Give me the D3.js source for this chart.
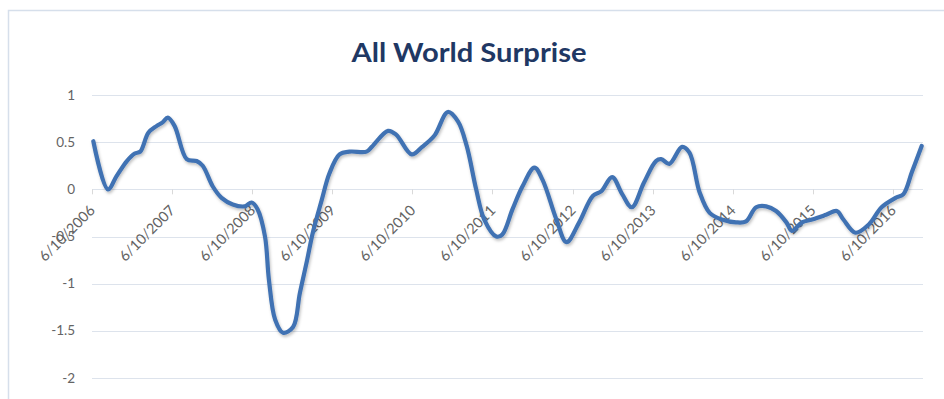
<!DOCTYPE html>
<html>
<head>
<meta charset="utf-8">
<script src="https://cdn.jsdelivr.net/npm/d3@7"></script>
<style>
  body { margin: 0; background: #fff; }
  text { font-family: Lato, "Open Sans", sans-serif; }
</style>
</head>
<body>
<div id="chart"></div>
<script>
var width = 944,
    height = 399;

// values
var dates = [
  "2006-06-16", "2006-08-22", "2006-09-30", "2006-11-16", "2006-12-22",
  "2007-01-16", "2007-02-22", "2007-03-31", "2007-04-28", "2007-05-22",
  "2007-06-22", "2007-08-16", "2007-09-30", "2007-10-28", "2007-12-13",
  "2008-01-22", "2008-03-13", "2008-05-07", "2008-06-07", "2008-07-04",
  "2008-08-07", "2008-08-25", "2008-09-22", "2008-10-28", "2008-12-13",
  "2009-01-13", "2009-02-16", "2009-03-13", "2009-04-22", "2009-05-28",
  "2009-07-13", "2009-08-28", "2009-11-13", "2009-12-07", "2010-02-19",
  "2010-03-28", "2010-06-07", "2010-07-25", "2010-09-19", "2010-11-19",
  "2011-01-04", "2011-02-13", "2011-03-28", "2011-05-04", "2011-06-28",
  "2011-07-25", "2011-09-10", "2011-10-25", "2011-12-19", "2012-01-25",
  "2012-03-28", "2012-05-13", "2012-07-10", "2012-09-10", "2012-10-19",
  "2012-12-07", "2013-01-22", "2013-03-07", "2013-05-01", "2013-06-25",
  "2013-07-19", "2013-08-25", "2013-10-22", "2013-11-25", "2014-01-10",
  "2014-02-25", "2014-04-22", "2014-06-25", "2014-08-10", "2014-09-25",
  "2014-11-10", "2014-12-25", "2015-02-10", "2015-03-07", "2015-04-22",
  "2015-06-07", "2015-08-10", "2015-09-28", "2015-10-28", "2015-12-22",
  "2016-02-22", "2016-04-19", "2016-06-22", "2016-07-28", "2016-09-04",
  "2016-10-19"
];
var surprise = [
  0.51, 0.00, 0.14, 0.30, 0.38,
  0.40, 0.60, 0.67, 0.71, 0.76,
  0.67, 0.32, 0.30, 0.25, 0.03,
  -0.09, -0.16, -0.18, -0.14, -0.21,
  -0.50, -0.96, -1.38, -1.52, -1.46,
  -1.10, -0.74, -0.46, -0.12, 0.17,
  0.37, 0.40, 0.40, 0.45, 0.62,
  0.58, 0.37, 0.45, 0.57, 0.82,
  0.72, 0.46, 0.00, -0.32, -0.50,
  -0.48, -0.21, 0.03, 0.23, 0.10,
  -0.32, -0.56, -0.35, -0.07, -0.02,
  0.13, -0.05, -0.19, 0.07, 0.30,
  0.32, 0.27, 0.45, 0.39, -0.03,
  -0.25, -0.32, -0.35, -0.34, -0.19,
  -0.18, -0.23, -0.35, -0.44, -0.35,
  -0.32, -0.27, -0.23, -0.32, -0.46,
  -0.37, -0.19, -0.09, -0.05, 0.18,
  0.46
];
var yTicks = [1, 0.5, 0, -0.5, -1, -1.5, -2];
var xTickDates = ["2006-06-10", "2007-06-10", "2008-06-10", "2009-06-10", "2010-06-10",
  "2011-06-10", "2012-06-10", "2013-06-10", "2014-06-10", "2015-06-10", "2016-06-10"];
var axisStart = "2006-06-10",
    axisEnd = "2016-10-25";

var parseDate = d3.timeParse("%Y-%m-%d");
var formatTick = function(d) {
  return (d.getMonth() + 1) + "/" + d.getDate() + "/" + d.getFullYear();
};

var data = dates.map(function(d, i) {
  return { date: parseDate(d), value: surprise[i] };
});

var svg = d3.select("#chart").append("svg")
  .attr("width", width)
  .attr("height", height);

var defs = svg.append("defs");
var shadow = defs.append("filter")
  .attr("id", "shadow")
  .attr("x", "-5%").attr("y", "-5%")
  .attr("width", "110%").attr("height", "110%");
shadow.append("feDropShadow")
  .attr("dx", 1).attr("dy", 2)
  .attr("stdDeviation", 1.5)
  .attr("flood-color", "#000")
  .attr("flood-opacity", 0.25);

// chart frame
svg.append("rect")
  .attr("x", 8.5)
  .attr("y", 10.5)
  .attr("width", width + 10)
  .attr("height", height + 10)
  .style("fill", "#fff")
  .style("stroke", "#d6dfeb")
  .style("stroke-width", 1.5);

var x = d3.scaleTime()
  .domain([parseDate(axisStart), parseDate(axisEnd)])
  .range([92, 923]);

var y = d3.scaleLinear()
  .domain([-2, 1])
  .range([378, 95]);

// gridlines
svg.selectAll(".grid")
  .data(yTicks)
  .enter()
  .append("line")
  .attr("class", "grid")
  .attr("x1", 92)
  .attr("x2", 923)
  .attr("y1", function(d) { return Math.round(y(d)) + 0.5; })
  .attr("y2", function(d) { return Math.round(y(d)) + 0.5; })
  .style("stroke", "#dde3ec")
  .style("stroke-width", 1.2);

// y labels
svg.selectAll(".ylab")
  .data(yTicks)
  .enter()
  .append("text")
  .attr("class", "ylab")
  .attr("x", 75)
  .attr("y", function(d) { return y(d) + 4.5; })
  .attr("text-anchor", "end")
  .style("font-size", "13.5px")
  .style("fill", "#646464")
  .text(function(d) { return d; });

// x tick marks on the zero line
var xTicks = xTickDates.map(parseDate);
svg.selectAll(".xtick")
  .data(xTicks)
  .enter()
  .append("line")
  .attr("class", "xtick")
  .attr("x1", function(d) { return Math.round(x(d)) + 0.5; })
  .attr("x2", function(d) { return Math.round(x(d)) + 0.5; })
  .attr("y1", y(0))
  .attr("y2", y(0) + 5)
  .style("stroke", "#d9d9d9");

// x labels, rotated
svg.selectAll(".xlab")
  .data(xTicks)
  .enter()
  .append("text")
  .attr("class", "xlab")
  .attr("text-anchor", "end")
  .attr("transform", function(d) {
    return "translate(" + (x(d) + 4) + "," + (y(0) + 22) + ") rotate(-45)";
  })
  .style("font-size", "14.5px")
  .style("fill", "#646464")
  .text(formatTick);

// the line
var line = d3.line()
  .curve(d3.curveCatmullRom.alpha(0.5))
  .x(function(d) { return x(d.date); })
  .y(function(d) { return y(d.value); });

svg.append("path")
  .datum(data)
  .attr("d", line)
  .attr("filter", "url(#shadow)")
  .style("fill", "none")
  .style("stroke", "#4172b3")
  .style("stroke-width", 4.2)
  .style("stroke-linejoin", "round")
  .style("stroke-linecap", "round");

// title
svg.append("text")
  .attr("x", 469)
  .attr("y", 62)
  .attr("text-anchor", "middle")
  .attr("textLength", 235)
  .attr("lengthAdjust", "spacingAndGlyphs")
  .style("font-size", "27px")
  .style("font-weight", "bold")
  .style("fill", "#1f3864")
  .text("All World Surprise");
</script>
</body>
</html>
